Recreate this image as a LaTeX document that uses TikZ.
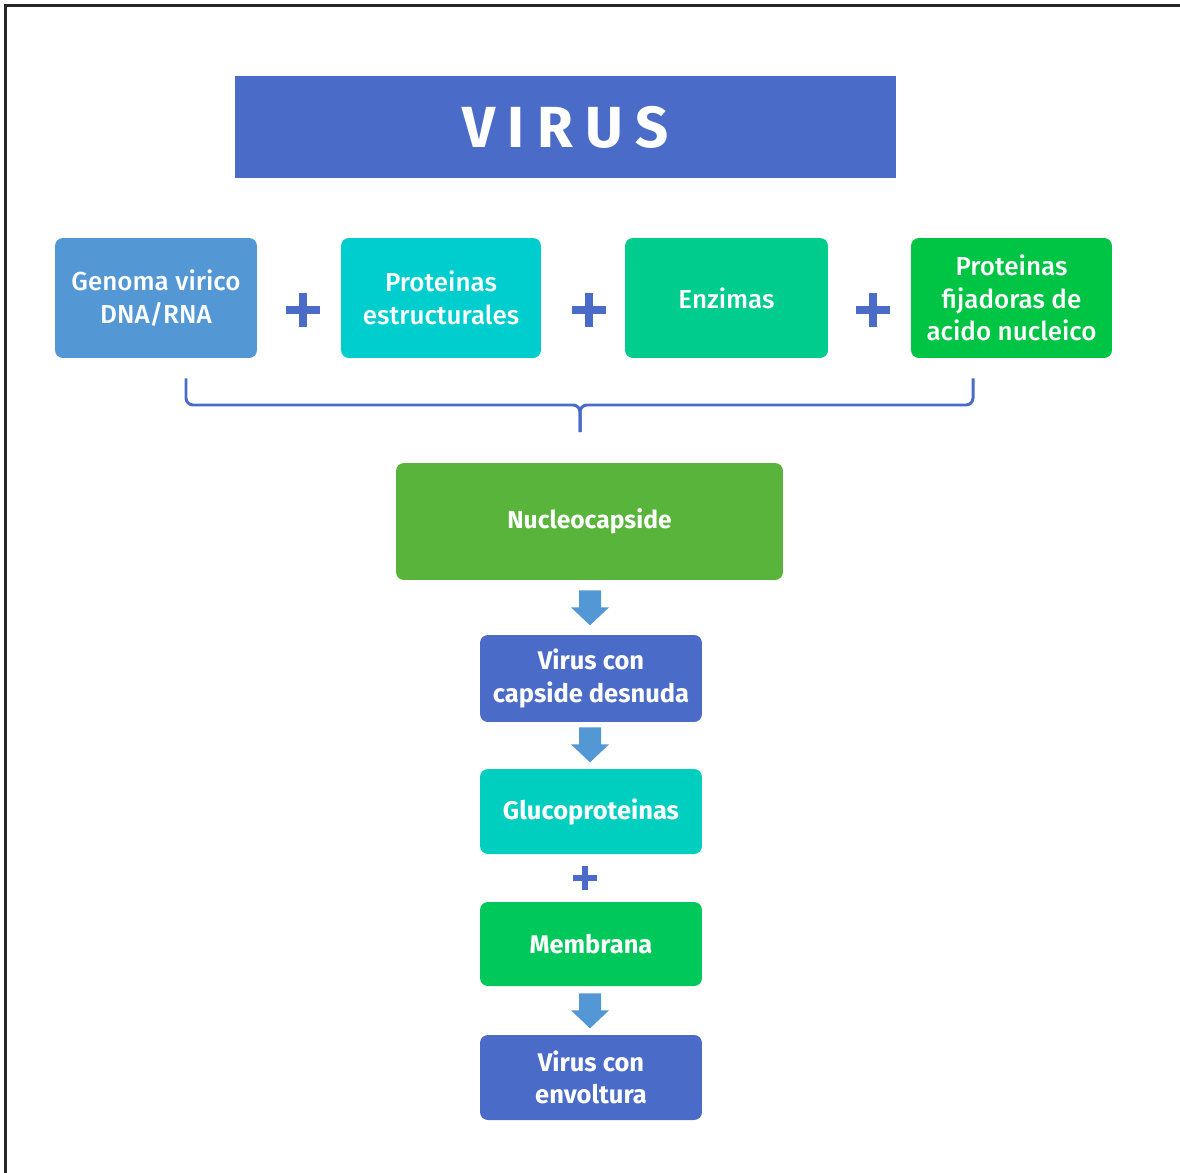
\documentclass[tikz,border=0pt]{standalone}
\usepackage{fontspec}
\setmainfont{Fira Sans}
\newfontfamily\medfont{Fira Sans Medium}
\usetikzlibrary{calc}

\definecolor{vblue}{RGB}{74,107,200}
\definecolor{lblue}{RGB}{84,151,213}
\definecolor{cyanbox}{RGB}{0,206,206}
\definecolor{mintbox}{RGB}{0,204,142}
\definecolor{greenbox}{RGB}{0,196,68}
\definecolor{leafbox}{RGB}{89,180,60}
\definecolor{tealbox}{RGB}{0,206,190}
\definecolor{membox}{RGB}{0,200,90}

\tikzset{
  box/.style={rounded corners=4.5pt, inner sep=2pt, align=center, text=white,
    font=\medfont\fontsize{14.8}{18.5}\selectfont},
  topbox/.style={box, minimum height=2.4cm},
  flowbox/.style={box, minimum width=4.44cm, font=\bfseries\fontsize{14.5}{18.5}\selectfont},
  plussign/.style={vblue, line width=4pt},
  bracketline/.style={vblue, line width=1.7pt, rounded corners=4pt},
  pics/downarrow/.style={code={
    \fill[lblue] (-11,0) -- (11,0) -- (11,17) -- (19,17) -- (0,35) -- (-19,17) -- (-11,17) -- cycle;
  }}
}

\begin{document}
\begin{tikzpicture}[x=0.02cm, y=-0.02cm]
\useasboundingbox (0,0) rectangle (1180,1173);

% frame on the top and left edges
\draw[line width=1.2pt, black!85] (5.5,1173) -- (5.5,5.5) -- (1180,5.5);

% title
\node[fill=vblue, minimum width=13.22cm, minimum height=2.04cm, text=white,
  font=\bfseries\fontsize{33}{36}\selectfont\addfontfeature{LetterSpace=22}]
  (title) at (565.5,127) {VIRUS};

% components
\node[topbox, fill=lblue, minimum width=4.04cm] (gen) at (156,298) {Genoma virico\\DNA/RNA};
\node[topbox, fill=cyanbox, minimum width=4.0cm] (prot) at (441,298) {Proteinas\\estructurales};
\node[topbox, fill=mintbox, minimum width=4.06cm] (enz) at (726.5,298) {Enzimas};
\node[topbox, fill=greenbox, minimum width=4.02cm] (fij) at (1011.5,298) {Proteinas\\fijadoras de\\acido nucleico};

% plus signs between components
\foreach \px in {303,589,873}{
  \draw[plussign] (\px-17,310) -- (\px+17,310);
  \draw[plussign] (\px,293) -- (\px,327);
}

% brace joining the components
\coordinate (bl) at ($(gen.south)+(30,20)$);
\coordinate (br) at ($(fij.south)+(-38.5,20)$);
\coordinate (bm) at (580,405);
\coordinate (bt) at (580,432);
\draw[bracketline] (bl) |- (bm) -- (bt);
\draw[bracketline] (br) |- (bm) -- (bt);

% assembly sequence
\node[box, fill=leafbox, minimum width=7.74cm, minimum height=2.34cm,
  font=\bfseries\fontsize{14}{18.5}\selectfont] (nuc) at (589.5,521.5) {Nucleocapside};
\node[flowbox, fill=vblue, minimum height=1.74cm] (naked) at (591,678.5) {Virus con\\capside desnuda};
\node[flowbox, fill=tealbox, minimum height=1.7cm] (gluco) at (591,811.5) {Glucoproteinas};
\node[flowbox, fill=membox, minimum height=1.68cm] (memb) at (591,944) {Membrana};
\node[flowbox, fill=vblue, minimum height=1.7cm] (env) at (591,1077.5) {Virus con\\envoltura};

% block arrows between steps
\pic at ($(nuc.south)+(0.5,10)$) {downarrow};
\pic at ($(naked.south)+(-1,5)$) {downarrow};
\pic at ($(memb.south)+(-1,7)$) {downarrow};

% plus between glycoproteins and membrane
\draw[vblue, line width=3pt] (573,878) -- (597,878);
\draw[vblue, line width=3pt] (585,866) -- (585,890);

\end{tikzpicture}
\end{document}
